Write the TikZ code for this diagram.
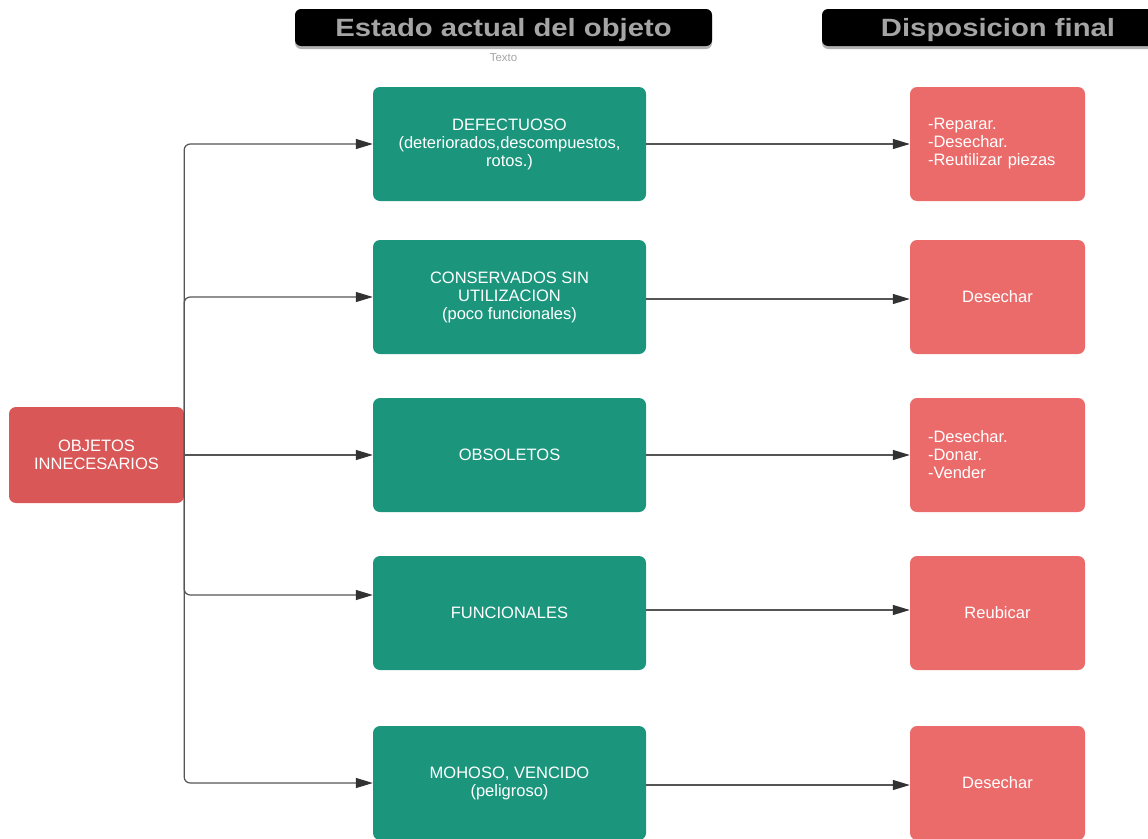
\documentclass[tikz,border=0pt]{standalone}
\usepackage{fontspec}
\setmainfont{Liberation Sans}
\usetikzlibrary{arrows.meta,positioning}
\definecolor{teal}{RGB}{27,150,125}
\definecolor{rootred}{RGB}{217,87,87}
\definecolor{leafred}{RGB}{235,107,107}
\definecolor{headgray}{RGB}{165,165,165}
\definecolor{linegray}{RGB}{85,85,85}
\definecolor{tipgray}{RGB}{50,50,50}
\tikzset{
  box/.style={rectangle, rounded corners=7pt, draw=none, text=white,
    font=\fontsize{16.5}{18}\selectfont, align=center, inner sep=0pt},
  statebox/.style={box, fill=teal, minimum width=273pt, minimum height=114pt},
  rootbox/.style={box, fill=rootred, minimum width=175pt, minimum height=96pt},
  endbox/.style={box, fill=leafred, minimum width=175pt, minimum height=114pt},
  listtext/.style={text width=139pt, align=left},
  link/.style={draw=linegray, line width=1.2pt,
    -{Triangle[length=17pt,width=10pt,fill=tipgray,color=tipgray]}},
  branch/.style={link, rounded corners=6pt},
  titlebar/.style={rectangle, rounded corners=6pt, fill=black},
  titletext/.style={text=headgray, font=\fontsize{25}{28}\selectfont\bfseries}
}
\begin{document}
\begin{tikzpicture}[x=1pt,y=-1pt]
\useasboundingbox (0,0) rectangle (1148,838);

% column headers
\fill[gray!60, rounded corners=6pt] (295,12) rectangle (712,49);
\fill[titlebar] (295,9) rectangle (712,46);
\node[titletext] (h1) at (503.5,30) {\scalebox{1.17}[1]{Estado actual del objeto}};
\node[text=headgray, font=\fontsize{11.5}{12}\selectfont] (sub) at (503.5,57.5) {Texto};
\fill[gray!60, rounded corners=6pt] (822,12) rectangle (1160,49);
\fill[titlebar] (822,9) rectangle (1160,46);
\node[titletext] (h2) at (998,30) {\scalebox{1.17}[1]{Disposicion final}};

% root
\node[rootbox] (obj) at (96.5,455) {OBJETOS\\INNECESARIOS};

% current state of the object
\node[statebox] (s1) at (509.5,144) {DEFECTUOSO\\(deteriorados,descompuestos,\\rotos.)};
\node[statebox] (s2) at (509.5,297) {CONSERVADOS SIN\\UTILIZACION\\(poco funcionales)};
\node[statebox] (s3) at (509.5,455) {OBSOLETOS};
\node[statebox] (s4) at (509.5,613) {FUNCIONALES};
\node[statebox] (s5) at (509.5,783) {MOHOSO, VENCIDO\\(peligroso)};

% final disposition
\node[endbox] (d1) at (997.5,144) {};
\node[listtext, text=white, font=\fontsize{16.5}{18}\selectfont] (t1) at (d1.center) {-Reparar.\\-Desechar.\\-Reutilizar piezas};
\node[endbox] (d2) at (997.5,297) {Desechar};
\node[endbox] (d3) at (997.5,455) {};
\node[listtext, text=white, font=\fontsize{16.5}{18}\selectfont] (t3) at (d3.center) {-Desechar.\\-Donar.\\-Vender};
\node[endbox] (d4) at (997.5,613) {Reubicar};
\node[endbox] (d5) at (997.5,783) {Desechar};

% branches from the root
\draw[branch] (obj.east) |- (s1.west);
\draw[branch] (obj.east) |- (s2.west);
\draw[link] (obj.east) -- (s3.west);
\draw[branch] (obj.east) |- ([yshift=18pt]s4.west);
\draw[branch] (obj.east) |- (s5.west);

% state to disposition
\draw[link] (s1.east) -- (d1.west);
\draw[link] ([yshift=-2pt]s2.east) -- ([yshift=-2pt]d2.west);
\draw[link] (s3.east) -- (d3.west);
\draw[link] ([yshift=3pt]s4.east) -- ([yshift=3pt]d4.west);
\draw[link] ([yshift=-2pt]s5.east) -- ([yshift=-2pt]d5.west);
\end{tikzpicture}
\end{document}
